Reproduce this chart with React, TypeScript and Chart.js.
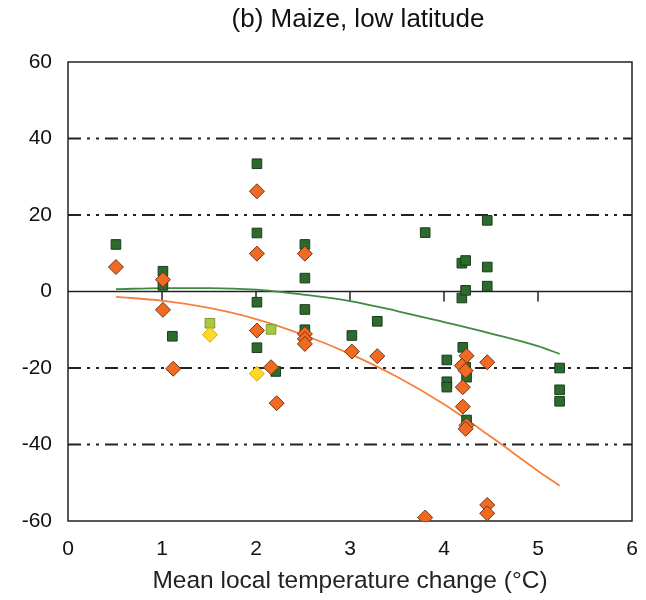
import React, { useEffect, useRef } from "react";
import { Chart, registerables } from "chart.js";

Chart.register(...registerables);

const chartTitle = "(b) Maize, low latitude";
const xAxisTitle = "Mean local temperature change (°C)";
const xTicks = [0, 1, 2, 3, 4, 5, 6];
const yTicks = [-60, -40, -20, 0, 20, 40, 60];
const zeroLineTicks = [1, 2, 3, 4, 5];

const darkGreenSquares: [number, number][] = [
  [0.51, 12.3], [1.01, 5.3], [1.01, 1.6], [1.11, -11.7],
  [2.01, 33.4], [2.01, 15.3], [2.01, -2.8], [2.01, -14.7], [2.21, -20.9],
  [2.52, 12.3], [2.52, 3.5], [2.52, -4.7], [2.52, -10],
  [3.02, -11.5], [3.29, -7.8], [3.8, 15.4],
  [4.03, -17.9], [4.03, -23.6], [4.03, -25],
  [4.19, 7.4], [4.23, 8.1], [4.19, -1.7], [4.23, 0.3],
  [4.2, -14.6], [4.23, -19.8], [4.24, -22.4], [4.24, -33.6],
  [4.46, 18.6], [4.46, 6.4], [4.46, 1.4],
  [5.23, -20], [5.23, -25.7], [5.23, -28.7],
];

const orangeDiamonds: [number, number][] = [
  [0.51, 6.4], [1.01, 3.1], [1.01, -4.8], [1.12, -20.2],
  [2.01, 26.2], [2.01, 9.9], [2.01, -10.2], [2.16, -19.8], [2.22, -29.2],
  [2.52, 9.9], [2.52, -11.1], [2.52, -12.4], [2.52, -13.7],
  [3.02, -15.7], [3.29, -16.9], [3.8, -59.1],
  [4.24, -16.8], [4.19, -19.4], [4.23, -20.7], [4.2, -25], [4.2, -30.1],
  [4.24, -35], [4.23, -35.9],
  [4.46, -18.5], [4.46, -55.8], [4.46, -58],
];

const lightGreenSquares: [number, number][] = [[1.51, -8.3], [2.16, -9.9]];
const yellowDiamonds: [number, number][] = [[1.51, -11.3], [2.01, -21.5]];

const curveX = [0.51, 1, 1.5, 2, 2.5, 3, 3.5, 4, 4.5, 5, 5.23];
const greenCurveY = [0.6, 0.9, 0.9, 0.5, -0.8, -2.5, -5.1, -8, -11, -14.3, -16.3];
const orangeCurveY = [-1.4, -2.4, -4.3, -7.2, -11.3, -16.3, -22.3, -29.5, -38, -46.9, -50.8];

const FONT = "'Liberation Sans', Arial, Helvetica, sans-serif";

const toPts = (arr: [number, number][]) => arr.map(([x, y]) => ({ x, y }));

const framePlugin = {
  id: "framePlugin",
  beforeDatasetsDraw(chart: any) {
    const { ctx, chartArea, scales } = chart;
    const ys = scales.y;
    const xs = scales.x;
    ctx.save();
    for (const v of yTicks) {
      if (v === 60 || v === -60) continue;
      const py = ys.getPixelForValue(v);
      ctx.beginPath();
      if (v === 0) {
        ctx.setLineDash([]);
        ctx.lineWidth = 1.5;
      } else {
        ctx.setLineDash([13, 6, 3, 6, 3, 6]);
        ctx.lineWidth = 2;
      }
      ctx.strokeStyle = "#222";
      ctx.moveTo(chartArea.left, py);
      ctx.lineTo(chartArea.right, py);
      ctx.stroke();
    }
    ctx.setLineDash([]);
    const y0 = ys.getPixelForValue(0);
    ctx.lineWidth = 1.5;
    ctx.strokeStyle = "#222";
    for (const v of zeroLineTicks) {
      const px = xs.getPixelForValue(v);
      ctx.beginPath();
      ctx.moveTo(px, y0);
      ctx.lineTo(px, y0 + 10);
      ctx.stroke();
    }
    ctx.lineWidth = 1.5;
    ctx.strokeRect(chartArea.left, chartArea.top, chartArea.right - chartArea.left, chartArea.bottom - chartArea.top);
    ctx.restore();
  },
  afterDraw(chart: any) {
    const { ctx, chartArea } = chart;
    ctx.save();
    ctx.font = `26px ${FONT}`;
    ctx.fillStyle = "#111";
    ctx.textAlign = "center";
    ctx.textBaseline = "middle";
    ctx.fillText(chartTitle, (chartArea.left + chartArea.right) / 2 + 8, 20);
    ctx.restore();
  },
};

export default function App() {
  const ref = useRef<HTMLCanvasElement | null>(null);
  useEffect(() => {
    if (!ref.current) return;
    const chart = new Chart(ref.current, {
      type: "scatter",
      data: {
        datasets: [
          {
            type: "line",
            label: "green fit",
            data: curveX.map((x, i) => ({ x, y: greenCurveY[i] })),
            borderColor: "#3f8a40",
            borderWidth: 1.8,
            pointRadius: 0,
            showLine: true,
            cubicInterpolationMode: "monotone",
            fill: false,
            order: 10,
          } as any,
          {
            type: "line",
            label: "orange fit",
            data: curveX.map((x, i) => ({ x, y: orangeCurveY[i] })),
            borderColor: "#f5803e",
            borderWidth: 1.8,
            pointRadius: 0,
            showLine: true,
            cubicInterpolationMode: "monotone",
            fill: false,
            order: 9,
          } as any,
          {
            label: "dark green",
            data: toPts(darkGreenSquares),
            pointStyle: "rect",
            pointRadius: 6.8,
            backgroundColor: "#2c6a2e",
            borderColor: "#1a3d1b",
            borderWidth: 1,
            order: 5,
          },
          {
            label: "light green",
            data: toPts(lightGreenSquares),
            pointStyle: "rect",
            pointRadius: 6.8,
            backgroundColor: "#a6c93f",
            borderColor: "#7c9a2c",
            borderWidth: 1,
            order: 4,
          },
          {
            label: "orange",
            data: toPts(orangeDiamonds),
            pointStyle: "rectRot",
            pointRadius: 7.5,
            backgroundColor: "#f26a21",
            borderColor: "#6e3414",
            borderWidth: 1,
            order: 2,
          },
          {
            label: "yellow",
            data: toPts(yellowDiamonds),
            pointStyle: "rectRot",
            pointRadius: 7.5,
            backgroundColor: "#ffd92a",
            borderColor: "#d9a800",
            borderWidth: 1,
            order: 1,
          },
        ],
      },
      options: {
        animation: false,
        responsive: false,
        maintainAspectRatio: false,
        layout: { padding: { left: 0, right: 14, top: 62, bottom: 0 } },
        plugins: {
          legend: { display: false },
          tooltip: { enabled: false },
          title: { display: false },
        },
        scales: {
          x: {
            type: "linear",
            min: 0,
            max: 6,
            afterBuildTicks: (scale: any) => {
              scale.ticks = xTicks.map((v) => ({ value: v }));
            },
            afterFit: (scale: any) => {
              scale.height = 79;
              scale.paddingRight = 0;
              scale.paddingLeft = 0;
            },
            grid: { display: false, drawTicks: false },
            border: { display: false },
            ticks: {
              padding: 16,
              color: "#111",
              font: { family: FONT, size: 21 },
              maxRotation: 0,
            },
            title: {
              display: true,
              text: xAxisTitle,
              color: "#222",
              font: { family: FONT, size: 24.5 },
              padding: { top: 0, bottom: 4 },
            },
          },
          y: {
            type: "linear",
            min: -60,
            max: 60,
            afterBuildTicks: (scale: any) => {
              scale.ticks = yTicks.map((v) => ({ value: v }));
            },
            afterFit: (scale: any) => {
              scale.width = 68;
            },
            grid: { display: false, drawTicks: false },
            border: { display: false },
            ticks: {
              padding: 16,
              color: "#111",
              font: { family: FONT, size: 21 },
            },
          },
        },
      },
      plugins: [framePlugin],
    } as any);
    return () => chart.destroy();
  }, []);
  return (
    <div style={{ position: "fixed", left: 0, top: 0, width: 646, height: 600, background: "#fff" }}>
      <canvas ref={ref} width={646} height={600} style={{ width: 646, height: 600 }} />
    </div>
  );
}
